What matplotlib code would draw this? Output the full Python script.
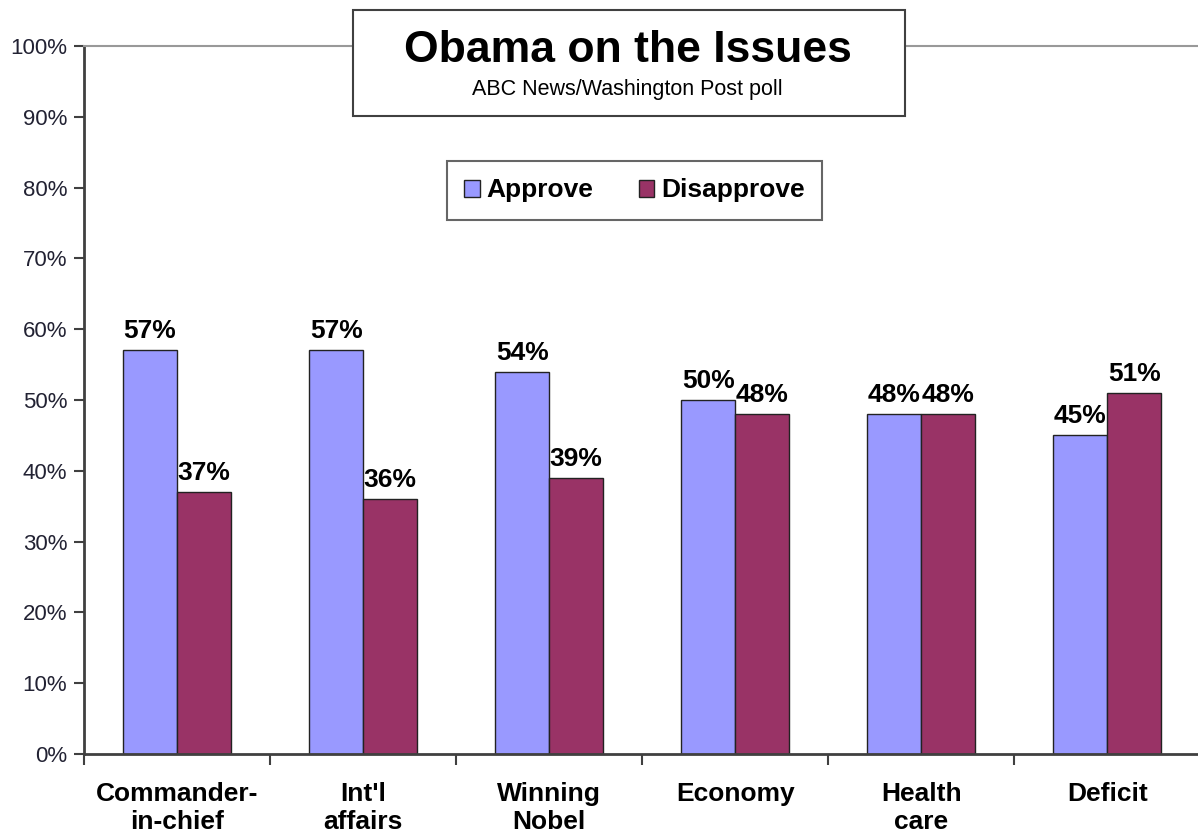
import matplotlib.pyplot as plt
from matplotlib.patches import Rectangle
from matplotlib.ticker import FixedLocator

plt.rcParams['font.family'] = ['Liberation Sans', 'DejaVu Sans']

categories = ["Commander-\nin-chief", "Int'l\naffairs", "Winning\nNobel", "Economy", "Health\ncare", "Deficit"]
approve = [57, 57, 54, 50, 48, 45]
disapprove = [37, 36, 39, 48, 48, 51]
yticks = [0, 10, 20, 30, 40, 50, 60, 70, 80, 90, 100]

fig = plt.figure(figsize=(11.98, 8.35), dpi=100)
ax = fig.add_axes([84 / 1198, 81 / 835, 1 - 84 / 1198 + 0.002, 708 / 835])

w = 0.29
x = list(range(len(categories)))
b1 = ax.bar([i - w / 2 for i in x], approve, w, color='#9999FF', edgecolor='#222222', linewidth=1, label='Approve')
b2 = ax.bar([i + w / 2 for i in x], disapprove, w, color='#993366', edgecolor='#222222', linewidth=1, label='Disapprove')

# value labels above the bars
for bars, vals in ((b1, approve), (b2, disapprove)):
    for bar, v in zip(bars, vals):
        ax.annotate(f"{v}%", (bar.get_x() + bar.get_width() / 2, v), xytext=(0, 5),
                    textcoords='offset points', ha='center', va='bottom',
                    fontsize=19, fontweight='bold', color='black')

ax.set_ylim(0, 100)
ax.set_xlim(-0.5, len(categories) - 0.5)
ax.set_yticks(yticks)
ax.set_yticklabels([f"{t}%" for t in yticks], fontsize=16, color='#222233')
ax.tick_params(axis='y', length=7, width=1.5, color='#404040', pad=5)

# category boundary ticks, labels centred between them
ax.xaxis.set_major_locator(FixedLocator([i - 0.5 for i in range(len(categories) + 1)]))
ax.xaxis.set_minor_locator(FixedLocator(x))
ax.set_xticklabels([])
ax.set_xticklabels(categories, minor=True, fontsize=19, fontweight='bold', linespacing=1.2)
ax.tick_params(axis='x', which='major', length=8, width=1.5, color='#404040')
ax.tick_params(axis='x', which='minor', length=0, pad=20)

ax.spines['right'].set_visible(False)
ax.spines['top'].set_color('#999999')
ax.spines['top'].set_linewidth(1.5)
for s in ('left', 'bottom'):
    ax.spines[s].set_color('#404040')
    ax.spines[s].set_linewidth(2)

# title box
box = Rectangle((353 / 1198, 1 - 116 / 835), 552 / 1198, 106 / 835, transform=fig.transFigure,
                facecolor='white', edgecolor='#404040', linewidth=1.5, zorder=5, clip_on=False)
fig.add_artist(box)
fig.text(628 / 1198, 1 - 51 / 835, "Obama on the Issues", ha='center', va='center',
         fontsize=32, fontweight='bold', zorder=6)
fig.text(627 / 1198, 1 - 89 / 835, "ABC News/Washington Post poll", ha='center', va='center',
         fontsize=15.5, zorder=6)

leg = fig.legend(handles=[b1, b2], loc='center', bbox_to_anchor=(634.5 / 1198, 1 - 190.5 / 835),
                 ncol=2, frameon=True, fancybox=False, prop={'weight': 'bold', 'size': 19},
                 handlelength=0.6, handleheight=0.6, handletextpad=0.25, columnspacing=1.7,
                 borderpad=0.65, borderaxespad=0)
leg.get_frame().set_edgecolor('#404040')
leg.get_frame().set_linewidth(1.5)

fig.savefig('out.png', dpi=100)
